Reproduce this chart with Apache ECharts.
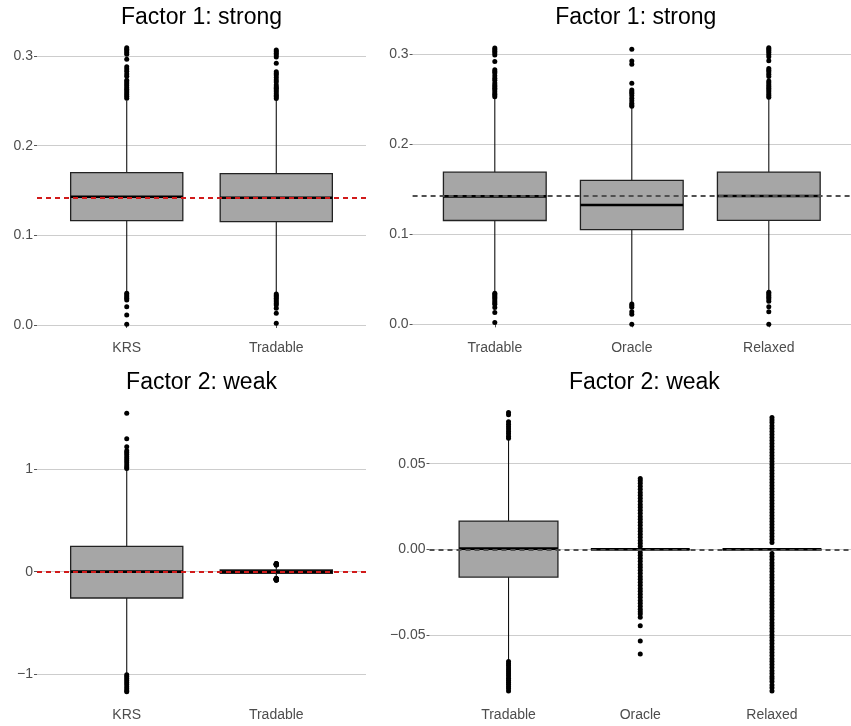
<!DOCTYPE html>
<html>
<head>
<meta charset="utf-8">
<script src="https://cdn.jsdelivr.net/npm/echarts@6/dist/echarts.min.js"></script>
<style>
  html, body { margin: 0; padding: 0; background: #fff; }
  #main { width: 851px; height: 726px; }
</style>
</head>
<body>
<div id="main"></div>
<script>
// categories
var catsLeft = ['KRS', 'Tradable'];
var catsRight = ['Tradable', 'Oracle', 'Relaxed'];

// box stats: [lower whisker, Q1, median, Q3, upper whisker]
var f1KRS = [0.0360, 0.1164, 0.1431, 0.1699, 0.2505];
var f1Tradable = [0.0355, 0.1152, 0.1420, 0.1689, 0.2508];
var f1Oracle = [0.0233, 0.1051, 0.1324, 0.1598, 0.2418];
var f1Relaxed = [0.0360, 0.1154, 0.1424, 0.1690, 0.2508];
var f2KRS = [-0.990, -0.2565, 0.0, 0.2467, 0.990];
var f2Tradable = [-0.0646, -0.0162, 0.0004, 0.0165, 0.0638];
var f2Oracle = [0, 0, 0, 0, 0];
var f2Relaxed = [0, 0, 0, 0, 0];

// outliers
var f1KRSOut = [0.3093, 0.3075, 0.3058, 0.3040, 0.3020, 0.2965, 0.2880, 0.2855, 0.2830, 0.2800,
  0.2775, 0.2730, 0.2710, 0.2690, 0.2670, 0.2650, 0.2630, 0.2610, 0.2590, 0.2570, 0.2550, 0.2530,
  0.0353, 0.0335, 0.0316, 0.0298, 0.0279, 0.0204, 0.0112, 0.0008];
var f1TradableOut = [0.3067, 0.3050, 0.3030, 0.3010, 0.2990, 0.2918, 0.2825, 0.2805, 0.2788, 0.2760,
  0.2732, 0.2710, 0.2677, 0.2655, 0.2640, 0.2620, 0.2602, 0.2580, 0.2560, 0.2546, 0.2525,
  0.0345, 0.0330, 0.0315, 0.0298, 0.0280, 0.0260, 0.0240, 0.0223, 0.0186, 0.0130, 0.0019];
var f1OracleOut = [0.3052, 0.2922, 0.2885, 0.2675, 0.2600, 0.2580, 0.2564, 0.2540, 0.2508, 0.2480,
  0.2453, 0.2435, 0.2420, 0.0226, 0.0210, 0.0189, 0.0140, 0.0111, 0.0000];
var f1RelaxedOut = [0.3070, 0.3055, 0.3040, 0.3020, 0.2995, 0.2970, 0.2926, 0.2840, 0.2820, 0.2800,
  0.2775, 0.2750, 0.2700, 0.2680, 0.2660, 0.2640, 0.2620, 0.2600, 0.2580, 0.2560, 0.2540, 0.2520,
  0.0355, 0.0340, 0.0320, 0.0300, 0.0280, 0.0255, 0.0196, 0.0141, 0.0000];
var f2KRSOut = [1.542, 1.295, 1.2175, 1.178, 1.160, 1.140, 1.120, 1.100, 1.080, 1.060, 1.040, 1.020, 1.005,
  -1.005, -1.020, -1.040, -1.060, -1.080, -1.100, -1.120, -1.140, -1.160, -1.170];
var f2TradableOut = [0.0798, 0.0785, 0.0745, 0.0730, 0.0716, 0.0702, 0.0688, 0.0674, 0.0660, 0.0648,
  -0.0655, -0.0668, -0.0680, -0.0692, -0.0704, -0.0716, -0.0728, -0.0740, -0.0752, -0.0764,
  -0.0776, -0.0788, -0.0800, -0.0812, -0.0827];
var f2OracleOut = [0.0414, 0.0400, 0.0385, 0.0368, 0.0350, 0.0332, 0.0315, 0.0298, 0.0280, 0.0262,
  0.0245, 0.0228, 0.0210, 0.0192, 0.0175, 0.0158, 0.0140, 0.0122, 0.0105, 0.0088, 0.0070, 0.0052,
  0.0035, 0.0018, -0.0018, -0.0035, -0.0052, -0.0070, -0.0088, -0.0105, -0.0122, -0.0140, -0.0158,
  -0.0175, -0.0192, -0.0210, -0.0228, -0.0245, -0.0262, -0.0280, -0.0298, -0.0315, -0.0332,
  -0.0350, -0.0365, -0.0378, -0.0397, -0.0446, -0.0535, -0.0611];
var f2RelaxedOut = [0.0770, 0.0755, 0.0740, 0.0722, 0.0705, 0.0688, 0.0670, 0.0652, 0.0635, 0.0618,
  0.0600, 0.0582, 0.0565, 0.0548, 0.0530, 0.0512, 0.0495, 0.0478, 0.0460, 0.0442, 0.0425, 0.0408,
  0.0390, 0.0372, 0.0355, 0.0338, 0.0320, 0.0302, 0.0285, 0.0268, 0.0250, 0.0232, 0.0215, 0.0198,
  0.0180, 0.0162, 0.0145, 0.0128, 0.0110, 0.0092, 0.0075, 0.0058, 0.0040,
  -0.0025, -0.0042, -0.0060, -0.0078, -0.0095, -0.0112, -0.0130, -0.0148, -0.0165, -0.0182, -0.0200,
  -0.0218, -0.0235, -0.0252, -0.0270, -0.0288, -0.0305, -0.0322, -0.0340, -0.0358, -0.0375, -0.0392,
  -0.0410, -0.0428, -0.0445, -0.0462, -0.0480, -0.0498, -0.0515, -0.0532, -0.0550, -0.0568, -0.0585,
  -0.0602, -0.0620, -0.0638, -0.0655, -0.0672, -0.0690, -0.0708, -0.0725, -0.0742, -0.0755,
  -0.0772, -0.0792, -0.0808, -0.0827];

// true values (dashed lines)
var f1Truth = 0.1424;
var f2Truth = 0;

// y tick labels
var yTicksF1 = [0, 0.1, 0.2, 0.3];
var yTicksF2Left = [-1, 0, 1];
var yTicksF2Right = [-0.05, 0, 0.05];

var panels = [
  { title: 'Factor 1: strong', cats: catsLeft, boxes: [f1KRS, f1Tradable], outs: [f1KRSOut, f1TradableOut],
    truth: f1Truth, truthColor: '#d11a1a', ticks: yTicksF1, digits: 1 },
  { title: 'Factor 1: strong', cats: catsRight, boxes: [f1Tradable, f1Oracle, f1Relaxed], outs: [f1TradableOut, f1OracleOut, f1RelaxedOut],
    truth: f1Truth, truthColor: '#505050', ticks: yTicksF1, digits: 1 },
  { title: 'Factor 2: weak', cats: catsLeft, boxes: [f2KRS, f2Tradable], outs: [f2KRSOut, f2TradableOut],
    truth: f2Truth, truthColor: '#d11a1a', ticks: yTicksF2Left, digits: 0 },
  { title: 'Factor 2: weak', cats: catsRight, boxes: [f2Tradable, f2Oracle, f2Relaxed], outs: [f2TradableOut, f2OracleOut, f2RelaxedOut],
    truth: f2Truth, truthColor: '#505050', ticks: yTicksF2Right, digits: 2 }
];

var layout = [
  { left: 37, top: 38.06, width: 329, height: 294.94, ymin: -0.0089, ymax: 0.32, titleTop: 6, labelMargin: 8 },
  { left: 412.6, top: 35.98, width: 446.4, height: 297.02, ymin: -0.00962, ymax: 0.32, titleTop: 6, labelMargin: 8 },
  { left: 37, top: 399.49, width: 329, height: 303.21, ymin: -1.2762, ymax: 1.677, titleTop: 371, labelMargin: 5 },
  { left: 429.5, top: 398.9, width: 429.8, height: 303.8, ymin: -0.08952, ymax: 0.0878, titleTop: 371, labelMargin: 5 }
];

var FONT = 'Liberation Sans, Arial, sans-serif';

function renderBox(params, api) {
  var x = api.value(0);
  var lo = api.coord([x, api.value(1)]);
  var q1 = api.coord([x, api.value(2)]);
  var md = api.coord([x, api.value(3)]);
  var q3 = api.coord([x, api.value(4)]);
  var hi = api.coord([x, api.value(5)]);
  var w = api.size([0.75, 0])[0];
  return {
    type: 'group',
    children: [
      { type: 'line', shape: { x1: lo[0], y1: lo[1], x2: q1[0], y2: q1[1] }, style: { stroke: '#111', lineWidth: 1.1 } },
      { type: 'line', shape: { x1: q3[0], y1: q3[1], x2: hi[0], y2: hi[1] }, style: { stroke: '#111', lineWidth: 1.1 } },
      { type: 'rect', shape: { x: q3[0] - w / 2, y: q3[1], width: w, height: q1[1] - q3[1] },
        style: { fill: '#a6a6a6', stroke: '#222', lineWidth: 1.3 } },
      { type: 'line', shape: { x1: md[0] - w / 2, y1: md[1], x2: md[0] + w / 2, y2: md[1] }, style: { stroke: '#000', lineWidth: 2.6 } }
    ]
  };
}

function fmt(v, d) {
  return v.toFixed(d).replace('-', '\u2212');
}

var option = { animation: false, backgroundColor: '#fff', title: [], grid: [], xAxis: [], yAxis: [], series: [] };

panels.forEach(function (p, i) {
  var L = layout[i];
  var idx = p.cats.map(function (c, k) { return k + 1; });
  option.title.push({
    text: p.title, left: L.left + L.width / 2, top: L.titleTop, textAlign: 'center', padding: 0,
    textStyle: { fontFamily: FONT, fontSize: 23, fontWeight: 'normal', color: '#000' }
  });
  option.grid.push({ left: L.left, top: L.top, width: L.width, height: L.height, containLabel: false });
  option.xAxis.push({
    type: 'value', gridIndex: i, min: 0.4, max: p.cats.length + 0.6,
    axisLine: { show: false },
    splitLine: { show: false },
    axisTick: { show: true, customValues: idx, length: 3, lineStyle: { color: '#555', width: 1 } },
    axisLabel: {
      customValues: idx, margin: L.labelMargin, fontFamily: FONT, fontSize: 14, color: '#4d4d4d',
      formatter: function (v) { return p.cats[Math.round(v) - 1] || ''; }
    }
  });
  option.yAxis.push({
    type: 'value', gridIndex: i, min: L.ymin, max: L.ymax,
    axisLine: { show: false },
    axisTick: { show: true, customValues: p.ticks, length: 3, lineStyle: { color: '#555', width: 1 } },
    splitLine: { show: true, lineStyle: { color: '#cdcdcd', width: 1 } },
    axisLabel: {
      customValues: p.ticks, margin: 4, fontFamily: FONT, fontSize: 14, color: '#4d4d4d',
      formatter: function (v) { return fmt(v, p.digits); }
    }
  });
  var boxData = p.boxes.map(function (b, k) { return [k + 1].concat(b); });
  option.series.push({
    type: 'custom', xAxisIndex: i, yAxisIndex: i, z: 2,
    renderItem: renderBox,
    encode: { x: 0, y: [1, 2, 3, 4, 5] },
    data: boxData
  });
  var pts = [];
  p.outs.forEach(function (arr, k) {
    arr.forEach(function (v) { pts.push([k + 1, v]); });
  });
  option.series.push({
    type: 'scatter', xAxisIndex: i, yAxisIndex: i, z: 3,
    symbolSize: 5, itemStyle: { color: '#000', opacity: 1 },
    data: pts,
    markLine: {
      silent: true, symbol: ['none', 'none'], label: { show: false }, precision: 6,
      lineStyle: { type: [5, 4], width: 1.8, color: p.truthColor },
      data: [{ yAxis: p.truth }]
    }
  });
});

var chart = echarts.init(document.getElementById('main'));
chart.setOption(option);
</script>
</body>
</html>
